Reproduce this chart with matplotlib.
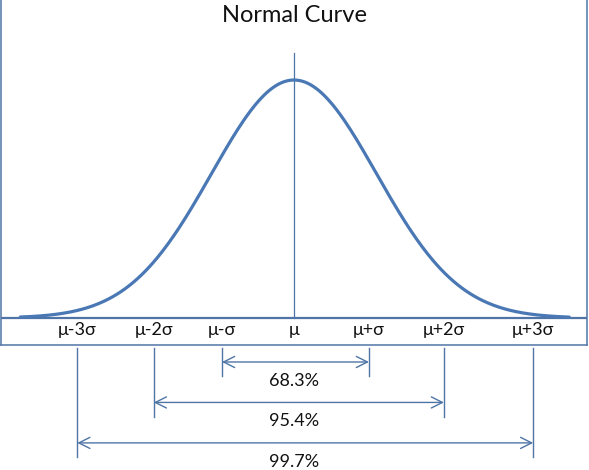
import matplotlib
matplotlib.use('Agg')
import matplotlib.pyplot as plt
import numpy as np

# label positions along the axis (in sigma steps)
tick_labels = ['μ-3σ', 'μ-2σ', 'μ-σ', 'μ', 'μ+σ', 'μ+2σ', 'μ+3σ']
tick_pos = [-2.89, -1.87, -0.96, 0.0, 1.0, 2.0, 3.19]

# coverage ranges: (left label index, right label index, text)
ranges_lo = [2, 1, 0]
ranges_hi = [4, 5, 6]
range_text = ['68.3%', '95.4%', '99.7%']

# bell curve parameters
curve_mean = 0.0
curve_sd = 1.1
curve_peak = 1.0
curve_start, curve_end = -3.65, 3.67

curve_col = '#4a78b5'
line_col = '#4f75a6'
font = ['Lato', 'DejaVu Sans']

fig = plt.figure(figsize=(5.89, 4.70), dpi=100)
W, H = 589.0, 470.0

# upper box with the curve
ax = fig.add_axes([1 / W, (H - 345) / H, 586 / W, 345 / H])
ax.set_xlim(-3.907, 3.907)
ax.set_ylim(-27 / 238, 318 / 238)
ax.set_xticks([])
ax.set_yticks([])
ax.spines['top'].set_visible(False)
for s in ['left', 'right', 'bottom']:
    ax.spines[s].set_color(line_col)
    ax.spines[s].set_linewidth(1.1)

x = np.linspace(curve_start, curve_end, 400)
y = curve_peak * np.exp(-0.5 * ((x - curve_mean) / curve_sd) ** 2)
ax.axhline(0, color=line_col, lw=1.6)
ax.plot([curve_mean, curve_mean], [0, 1.113], color=line_col, lw=0.9)
ax.plot(x, y, color=curve_col, lw=2.3, solid_capstyle='round')

for lab, p in zip(tick_labels, tick_pos):
    ax.text(p, -0.05, lab, ha='center', va='center', fontsize=13,
            family=font, color='#111111')

# lower part with the coverage arrows
ax2 = fig.add_axes([1 / W, 0, 586 / W, (H - 345) / H], sharex=ax)
ax2.set_ylim(3.67, 0.58)
ax2.axis('off')

for k, (lo, hi, txt) in enumerate(zip(ranges_lo, ranges_hi, range_text), start=1):
    xl, xr = tick_pos[lo], tick_pos[hi]
    for xv in (xl, xr):
        ax2.plot([xv, xv], [0.65, k + 0.35], color=line_col, lw=1.0)
    ax2.annotate('', xy=(xr, k), xytext=(xl, k),
                 arrowprops=dict(arrowstyle='<->,head_length=0.8,head_width=0.4',
                                 color=line_col, lw=1.0, shrinkA=0, shrinkB=0))
    ax2.text(0.0, k + 0.47, txt, ha='center', va='center', fontsize=13,
             family=font, color='#111111')

fig.text(0.5, 1 - 15 / H, 'Normal Curve', ha='center', va='center',
         fontsize=17, family=font, color='#111111')

fig.savefig('out.png', dpi=100)
